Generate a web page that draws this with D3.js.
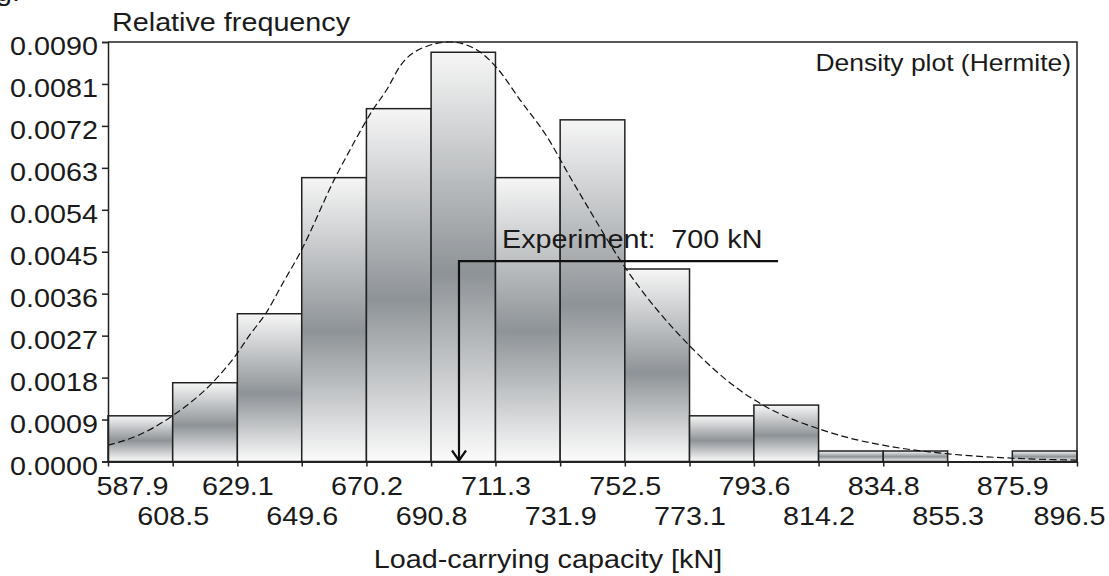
<!DOCTYPE html>
<html>
<head>
<meta charset="utf-8">
<script src="https://cdn.jsdelivr.net/npm/d3@7"></script>
<style>
  body { margin: 0; background: #fff; }
  svg text { font-family: "Liberation Sans", Arial, sans-serif; fill: #1a1a1a; }
</style>
</head>
<body>
<div id="chart"></div>
<script>
// histogram bins (kN) and relative frequencies
var binEdges = [587.9, 608.5, 629.1, 649.6, 670.2, 690.8, 711.3, 731.9, 752.5, 773.1, 793.6, 814.2, 834.8, 855.3, 875.9, 896.5];
var binFreq = [0.00098, 0.00169, 0.00317, 0.00609, 0.00757, 0.00878, 0.00609, 0.00733, 0.00413, 0.00098, 0.00121, 0.000225, 0.000225, 0, 0.000225];

// Hermite density curve
var densX = [587.9, 597.1, 608.0, 622.0, 628.3, 633.1, 638.2, 643.6, 649.0, 660.5, 665.0, 672.3, 676.7, 680.9, 689.5, 696.8, 705.4, 711.8, 719.1, 727.7, 735.0, 739.2, 752.2, 773.9, 786.9, 796.5, 814.3, 824.2, 834.7, 856.1, 876.1, 896.5];
var densY = [0.00035, 0.00055, 0.00096, 0.00175, 0.00225, 0.00272, 0.00318, 0.00383, 0.00447, 0.00612, 0.00669, 0.00755, 0.00798, 0.00848, 0.00891, 0.00900, 0.00883, 0.00844, 0.00776, 0.00697, 0.00611, 0.00563, 0.00420, 0.00243, 0.00164, 0.00121, 0.00070, 0.00050, 0.00035, 0.00016, 0.00007, 0.00003];

var yTicks = [0, 0.0009, 0.0018, 0.0027, 0.0036, 0.0045, 0.0054, 0.0063, 0.0072, 0.0081, 0.0090];

// experiment marker
var expValue = 700;
var expLevel = 0.0043;
var expLineEnd = 801.3;

(function() {
  var width = 1109, height = 576;
  var mLeft = 108, mRight = 1077, mTop = 42, mBottom = 461.5;
  var sx = 1.15;  // the original text is a bit wide

  var svg = d3.select('#chart').append('svg')
    .attr('width', width)
    .attr('height', height);

  var grad = svg.append('defs').append('linearGradient')
    .attr('id', 'barfill')
    .attr('x1', 0).attr('y1', 0).attr('x2', 0).attr('y2', 1);
  grad.append('stop').attr('offset', 0).attr('stop-color', '#f6f6f6');
  grad.append('stop').attr('offset', 0.54).attr('stop-color', '#8e9397');
  grad.append('stop').attr('offset', 1).attr('stop-color', '#fbfbfb');

  var x = d3.scaleLinear().domain([binEdges[0], binEdges[binEdges.length - 1]]).range([mLeft, mRight]);
  var y = d3.scaleLinear().domain([0, 0.009]).range([mBottom, mTop]);

  var bins = binFreq.map(function(f, i) { return { x0: binEdges[i], x1: binEdges[i + 1], f: f }; });

  // bars
  svg.append('g').selectAll('rect')
    .data(bins)
    .enter()
    .append('rect')
    .attr('x', function(d) { return x(d.x0); })
    .attr('y', function(d) { return y(d.f); })
    .attr('width', function(d) { return x(d.x1) - x(d.x0); })
    .attr('height', function(d) { return y(0) - y(d.f); })
    .attr('fill', 'url(#barfill)')
    .attr('stroke', '#222')
    .attr('stroke-width', 1.5);

  // density curve
  var line = d3.line()
    .x(function(d) { return x(d[0]); })
    .y(function(d) { return y(d[1]); })
    .curve(d3.curveMonotoneX);
  svg.append('path')
    .attr('d', line(d3.zip(densX, densY)))
    .attr('fill', 'none')
    .attr('stroke', '#111')
    .attr('stroke-width', 1.2)
    .attr('stroke-dasharray', '7,3.5');

  // frame
  svg.append('path')
    .attr('d', 'M' + mLeft + ',' + mTop + 'H' + mRight + 'V' + mBottom)
    .attr('fill', 'none')
    .attr('stroke', '#222')
    .attr('stroke-width', 1.5);

  // y axis
  var yAxis = svg.append('g')
    .attr('transform', 'translate(' + mLeft + ',0)')
    .call(d3.axisLeft(y).tickValues(yTicks).tickFormat(d3.format('.4f')).tickSize(6));
  yAxis.select('.domain').attr('stroke', '#222').attr('stroke-width', 1.5);
  yAxis.selectAll('.tick line').attr('stroke', '#222').attr('stroke-width', 1.5);
  yAxis.selectAll('.tick text')
    .attr('font-size', 25)
    .attr('dy', null)
    .attr('x', -10 / sx)
    .attr('y', 12.5)
    .attr('transform', 'scale(' + sx + ',1)');

  // x axis, labels alternate between two rows
  var xAxis = svg.append('g')
    .attr('transform', 'translate(0,' + mBottom + ')')
    .call(d3.axisBottom(x).tickValues(binEdges).tickFormat(d3.format('.1f')).tickSize(5).tickSizeOuter(0));
  xAxis.select('.domain').attr('stroke', '#222').attr('stroke-width', 2);
  xAxis.selectAll('.tick line').attr('stroke', '#222').attr('stroke-width', 1.5);
  var last = binEdges.length - 1;
  xAxis.selectAll('.tick text')
    .attr('font-size', 25)
    .attr('dy', null)
    .attr('y', function(d, i) { return i % 2 === 0 ? 33.5 : 63.5; })
    .attr('transform', 'scale(' + sx + ',1)')
    // end labels are pulled inside the picture
    .attr('text-anchor', function(d, i) { return i === 0 ? 'start' : (i === last ? 'end' : 'middle'); })
    .attr('x', function(d, i) { return i === 0 ? -12 / sx : (i === last ? 28 / sx : 0); });

  // experiment arrow
  var ex = x(expValue), ey = y(expLevel);
  svg.append('path')
    .attr('d', 'M' + x(expLineEnd) + ',' + ey + 'H' + (ex - 1) + 'V' + (mBottom - 1))
    .attr('fill', 'none')
    .attr('stroke', '#111')
    .attr('stroke-width', 2.2);
  svg.append('path')
    .attr('d', 'M' + (ex - 8) + ',' + (mBottom - 11) + 'L' + (ex - 1) + ',' + (mBottom - 1) + 'L' + (ex + 6) + ',' + (mBottom - 11))
    .attr('fill', 'none')
    .attr('stroke', '#111')
    .attr('stroke-width', 2.2);

  // texts
  function label(str, px, py, size, anchor) {
    return svg.append('text')
      .attr('transform', 'translate(' + px + ',' + py + ') scale(' + sx + ',1)')
      .attr('font-size', size)
      .attr('text-anchor', anchor)
      .style('white-space', 'pre')
      .text(str);
  }
  label('Relative frequency', 112, 31, 25, 'start');
  label('Density plot (Hermite)', 1071, 71, 23, 'end');
  label('Experiment:  700 kN', 502, 248, 25, 'start');
  label('Load-carrying capacity [kN]', 548, 568, 25, 'middle');
  label('g.', -4, 1, 25, 'start');
})();
</script>
</body>
</html>
